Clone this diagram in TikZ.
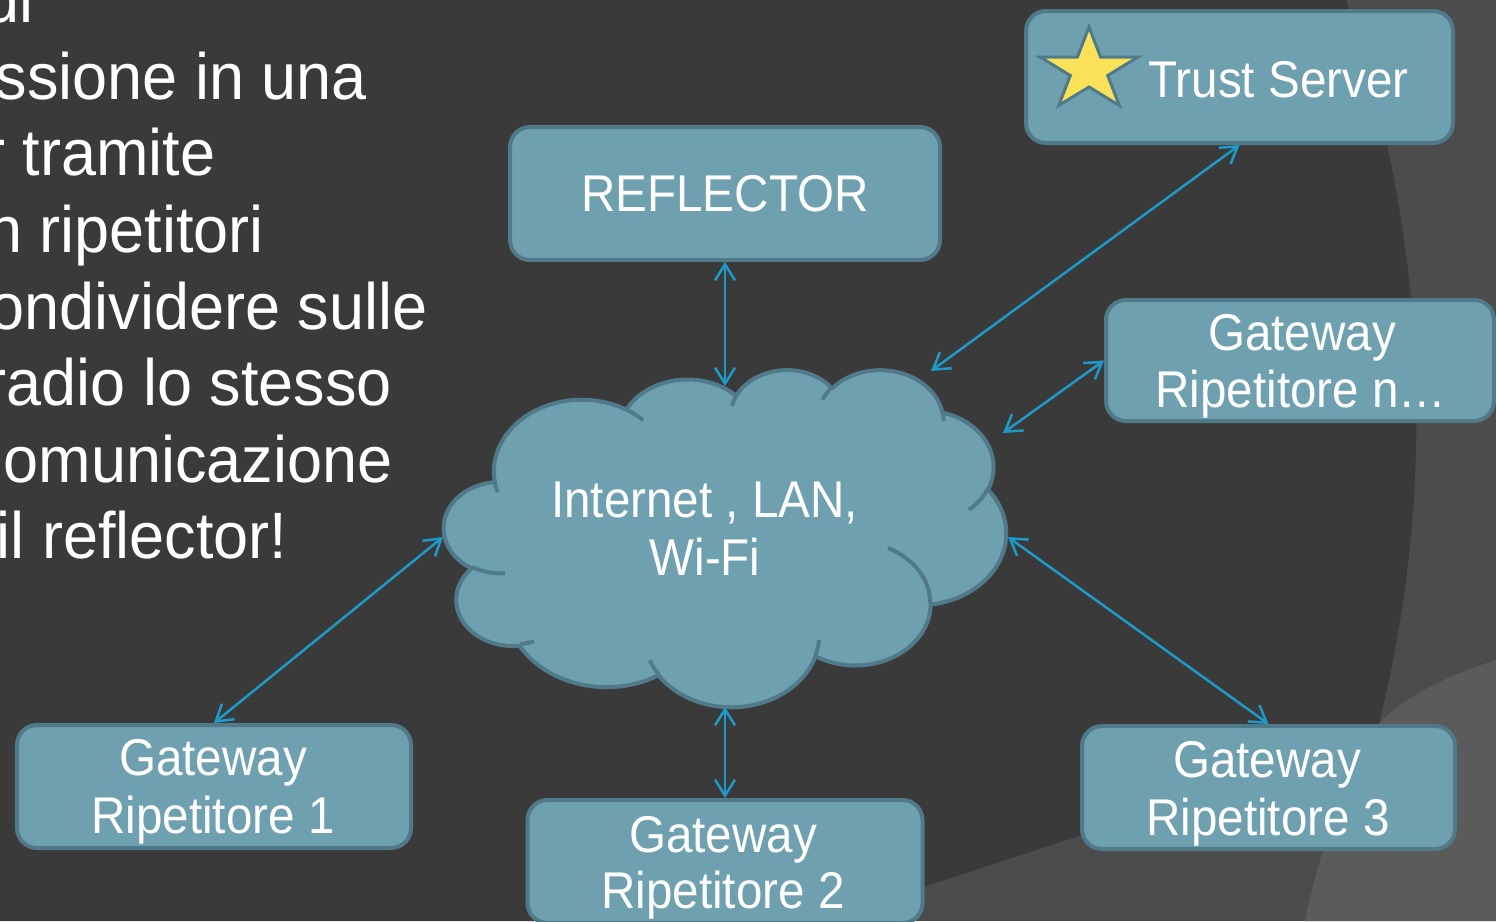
\documentclass[tikz,border=0pt]{standalone}
\usepackage{fontspec}
\setmainfont{Liberation Sans}[FakeStretch=0.92]
\newfontfamily\sidefont{Liberation Sans}[FakeStretch=0.96]
\usetikzlibrary{arrows.meta}

\definecolor{bgdark}{RGB}{58,58,58}
\definecolor{bgmid}{RGB}{76,76,76}
\definecolor{bglight}{RGB}{91,91,91}
\definecolor{boxfill}{RGB}{111,160,175}
\definecolor{boxline}{RGB}{80,122,137}
\definecolor{linkblue}{RGB}{30,154,201}
\definecolor{staryellow}{RGB}{249,226,88}

\tikzset{
  box/.style={draw=boxline, fill=boxfill, line width=4bp, rounded corners=20bp, inner sep=0pt},
  boxtext/.style={text=white, inner sep=0pt, anchor=base, font=\fontsize{51.7bp}{57bp}\selectfont},
  sidetext/.style={text=white, inner sep=0pt, anchor=base east, font=\sidefont\fontsize{65.6bp}{76.5bp}\selectfont},
  link/.style={draw=linkblue, line width=2.5bp, >={Straight Barb[length=16bp,width=20bp]}, <->},
  cloudshape/.style={draw=boxline, fill=boxfill, line width=4bp, line join=round},
  cloudcrease/.style={draw=boxline, line width=4bp},
}

\begin{document}
\begin{tikzpicture}[x=1bp, y=-1bp]
\useasboundingbox (0,0) rectangle (1496,921);
\begin{scope}
\clip (0,0) rectangle (1496,921);

% backdrop: textured grey, lighter corner, dark rounded panel
\fill[bgmid] (0,0) rectangle (1496,921);
\fill[bglight] (1496,660) .. controls (1420,685) and (1370,715) .. (1350,770)
   .. controls (1335,810) and (1315,870) .. (1305,921) -- (1496,921) -- cycle;
\fill[bgdark] (0,0) -- (1346.2,0) arc[start angle=-19.12, end angle=14.01, radius=1273]
   .. controls (1280,770) and (1180,805) .. (1076,837)
   .. controls (1020,855) and (970,872) .. (923,887)
   -- (810,921) -- (0,921) -- cycle;

% body text of the slide, running off the left edge
\node[sidetext] (side0) at (34,22)     {di};
\node[sidetext] (side1) at (367,99)    {ssione in una};
\node[sidetext] (side2) at (215.5,175) {r tramite};
\node[sidetext] (side3) at (264,252)   {n ripetitori};
\node[sidetext] (side4) at (427.5,329) {ondividere sulle};
\node[sidetext] (side5) at (392,405)   {radio lo stesso};
\node[sidetext] (side6) at (392.5,482) {omunicazione};
\node[sidetext] (side7) at (287.5,558) {il reflector!};

% network cloud (outline in 1/100 units of a 432 x 432 frame)
\begin{scope}[shift={(444,369)}, xscale=1.30093, yscale=0.780093]
\filldraw[cloudshape] (39.00,143.70)
  arc[start angle=-187.746, end angle=-59.63,  x radius=67.53, y radius=91.90]
  arc[start angle=-152.02,  end angle=-45.44,  x radius=53.33, y radius=72.67]
  arc[start angle=-153.49,  end angle=-37.33,  x radius=43.65, y radius=59.45]
  arc[start angle=-139.69,  end angle=-10.21,  x radius=48.57, y radius=65.95]
  arc[start angle=-74.77,   end angle=23.21,   x radius=53.33, y radius=72.73]
  arc[start angle=-37.53,   end angle=81.86,   x radius=67.75, y radius=92.20]
  arc[start angle=0.4596,   end angle=121.98,  x radius=57.85, y radius=78.67]
  arc[start angle=16.84,    end angle=146.24,  x radius=67.52, y radius=92.15]
  arc[start angle=58.98,    end angle=150.20,  x radius=77.20, y radius=105.43]
  arc[start angle=-276.69,  end angle=-136.87, x radius=43.60, y radius=59.18]
  arc[start angle=-239.64,  end angle=-95.88,  x radius=43.45, y radius=59.45]
  -- cycle;
\draw[cloudcrease] (46.93,261.77)  arc[start angle=85.54,   end angle=120.36,  x radius=43.45, y radius=59.45];
\draw[cloudcrease] (69.28,348.99)  arc[start angle=68.24,   end angle=83.31,   x radius=43.60, y radius=59.18];
\draw[cloudcrease] (164.78,390.90) arc[start angle=146.24,  end angle=158.47,  x radius=67.52, y radius=92.15];
\draw[cloudcrease] (288.27,347.51) arc[start angle=4.738,   end angle=16.84,   x radius=67.52, y radius=92.15];
\draw[cloudcrease] (341.29,229.54) arc[start angle=-64.03,  end angle=0.4596,  x radius=57.85, y radius=78.67];
\draw[cloudcrease] (417.98,153.54) arc[start angle=23.21,   end angle=49.64,   x radius=53.33, y radius=72.73];
\draw[cloudcrease] (383.24,54.26)  arc[start angle=-10.21,  end angle=0.821,   x radius=48.57, y radius=65.95];
\draw[cloudcrease] (290.78,39.52)  arc[start angle=-156.28, end angle=-139.69, x radius=48.57, y radius=65.95];
\draw[cloudcrease] (221.41,47.20)  arc[start angle=-167.73, end angle=-153.49, x radius=43.65, y radius=59.45];
\draw[cloudcrease] (140.00,51.92)  arc[start angle=-59.63,  end angle=-45.72,  x radius=67.53, y radius=91.90];
\draw[cloudcrease] (41.27,157.89)  arc[start angle=163.19,  end angle=172.254, x radius=67.53, y radius=91.90];
\end{scope}
\node[boxtext] (netA) at (704.5,517) {Internet , LAN,};
\node[boxtext] (netB) at (705,575)   {Wi-Fi};

% connection points on the cloud
\coordinate (cTop) at (725,386);
\coordinate (cNE)  at (931,371);
\coordinate (cE1)  at (1003,433);
\coordinate (cE2)  at (1008,537);
\coordinate (cS)   at (725,707);
\coordinate (cW)   at (443,537);

% boxes
\node[box, minimum width=430bp, minimum height=133bp] (refl)  at (725,193.5)   {};
\node[box, minimum width=427bp, minimum height=132bp] (trust) at (1239.5,77)   {};
\node[box, minimum width=388bp, minimum height=121bp] (gwn)   at (1300,360.5)  {};
\node[box, minimum width=394bp, minimum height=123bp] (gw1)   at (214,786.5)   {};
\node[box, minimum width=395bp, minimum height=123bp] (gw2)   at (725,861.5)   {};
\node[box, minimum width=373bp, minimum height=123bp] (gw3)   at (1268.5,787.5) {};

% star badge of the trust server
\filldraw[fill=staryellow, draw=boxline, line width=3bp, line join=miter]
  (1089,27) -- (1100.6,57) -- (1138,57) -- (1107.7,75.5) -- (1119.3,105.5)
  -- (1089,87) -- (1058.7,105.5) -- (1070.3,75.5) -- (1040,57) -- (1077.4,57) -- cycle;

% labels
\node[boxtext] (reflT)  at (725,211)    {REFLECTOR};
\node[boxtext] (trustT) at (1278.5,97)  {Trust Server};
\node[boxtext] (gwnA)   at (1302,350)   {Gateway};
\node[boxtext] (gwnB)   at (1301,407)   {Ripetitore n…};
\node[boxtext] (gw1A)   at (213,775)    {Gateway};
\node[boxtext] (gw1B)   at (213,833)    {Ripetitore 1};
\node[boxtext] (gw2A)   at (723,852)    {Gateway};
\node[boxtext] (gw2B)   at (723,908)    {Ripetitore 2};
\node[boxtext] (gw3A)   at (1267,777)   {Gateway};
\node[boxtext] (gw3B)   at (1268,835)   {Ripetitore 3};

% links
\draw[link] (refl.south)  -- (cTop);
\draw[link] (trust.south) -- (cNE);
\draw[link] (gwn.west)    -- (cE1);
\draw[link] (cE2)         -- (gw3.north);
\draw[link] (cS)          -- (gw2.north);
\draw[link] (cW)          -- (gw1.north);
\end{scope}
\end{tikzpicture}
\end{document}
